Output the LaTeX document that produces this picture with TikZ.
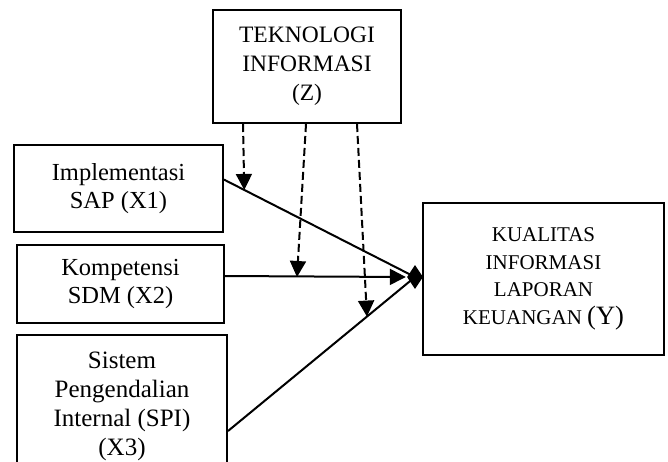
\documentclass[tikz,border=0pt]{standalone}
\usepackage{fontspec}
\setmainfont{Liberation Serif}
\usetikzlibrary{arrows.meta,calc,shapes.geometric}
\begin{document}
\begin{tikzpicture}[x=1pt,y=-1pt,
  box/.style={draw,line width=2pt,inner sep=0pt,align=center},
  solid line/.style={line width=2pt},
  dash line/.style={line width=2pt,dash pattern=on 8pt off 4pt},
  arrowtip/.style={-{Triangle[width=16pt,length=16pt]}},
  bodyfont/.style={font=\fontsize{24.5}{28}\selectfont}]
\useasboundingbox (0,0) rectangle (668,461);
\node[box,minimum width=188pt,minimum height=113pt,font=\fontsize{23.5}{29}\selectfont] (Z) at (307,66.5) {TEKNOLOGI\\INFORMASI\\(Z)};
\node[box,bodyfont,minimum width=209pt,minimum height=87pt] (X1) at (118.5,188.5) {Implementasi\\SAP (X1)};
\node[box,bodyfont,minimum width=207pt,minimum height=78pt] (X2) at (120.5,284) {Kompetensi\\SDM (X2)};
\node[box,font=\fontsize{25}{29}\selectfont,minimum width=210pt,minimum height=143pt] (X3) at (122,406.5) {Sistem\\Pengendalian\\Internal (SPI)\\(X3)};
\node[box,font=\fontsize{21}{27.7}\selectfont,minimum width=241pt,minimum height=152pt] (Y) at (543.5,279) {KUALITAS\\INFORMASI\\LAPORAN\\KEUANGAN \fontsize{26.5}{27.7}\selectfont(Y)};
\node[diamond,fill,inner sep=0pt,minimum width=16pt,minimum height=24pt] (D) at (415,277) {};
\coordinate (s1) at ($(X1.north east)!0.4!(X1.south east)$);
\coordinate (s2) at ($(X2.north east)!0.4!(X2.south east)$);
\coordinate (s3) at ($(X3.north east)+(0,97)$);
\draw[solid line] (s1) -- (D.center);
\draw[solid line,arrowtip] (s2) -- ($(D.west)+(-1,0)$);
\draw[solid line] (s3) -- (D.center);
\coordinate (m1) at ($(s1)!0.106!(D.center)$);
\coordinate (m2) at (297,277);
\coordinate (m3) at ($(s3)!0.743!(D.center)$);
\draw[dash line,arrowtip] (Z.south -| 243,0) -- (m1);
\draw[dash line,arrowtip] (Z.south -| 306,0) -- (m2);
\draw[dash line,arrowtip] (Z.south -| 357,0) -- (m3);
\end{tikzpicture}
\end{document}
